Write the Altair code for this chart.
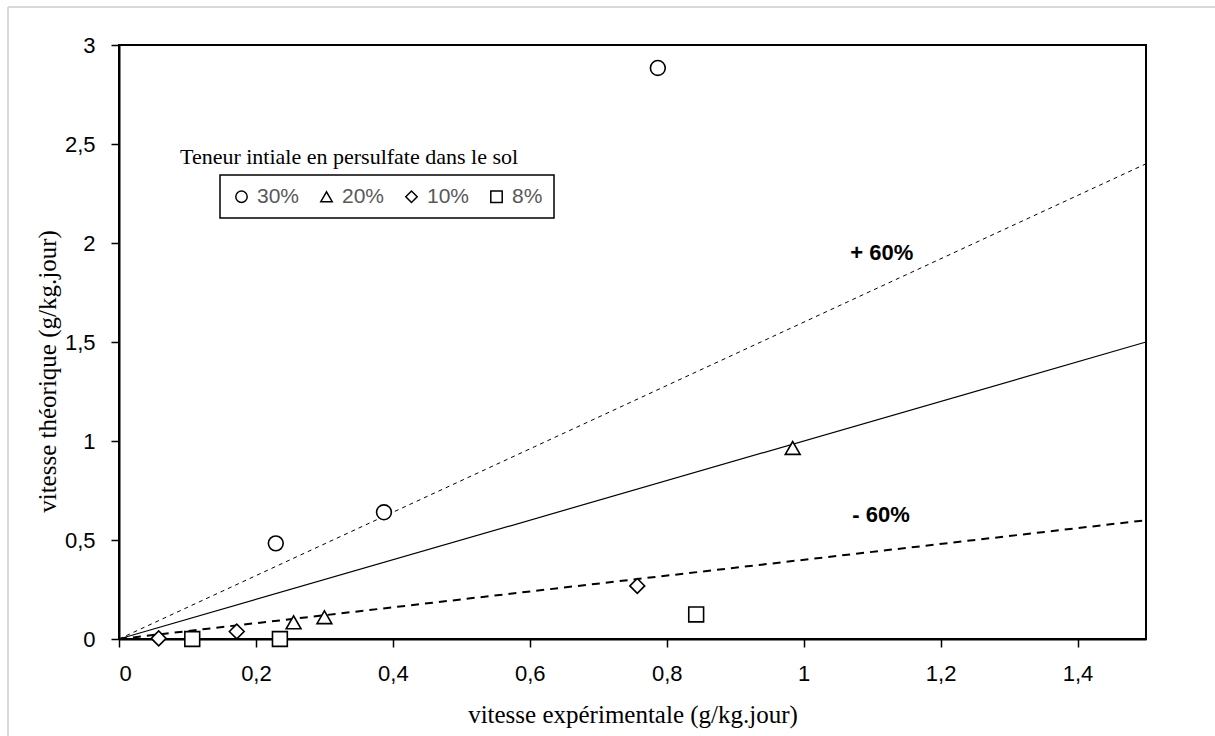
import altair as alt
import pandas as pd

# ---- data ----
series = ["30%", "20%", "10%", "8%"]
shapes = ["circle", "triangle-up", "diamond", "square"]

x_30 = [0.229, 0.387, 0.787]
y_30 = [0.483, 0.640, 2.884]
x_20 = [0.255, 0.300, 0.984]
y_20 = [0.084, 0.110, 0.965]
x_10 = [0.058, 0.172, 0.757]
y_10 = [0.003, 0.038, 0.268]
x_8 = [0.107, 0.235, 0.843]
y_8 = [0.000, 0.000, 0.124]

line_x = [0.0, 1.5]
line_y_ref = [0.0, 1.5]
line_y_plus = [0.0, 2.4]
line_y_minus = [0.0, 0.6]

ann_text = ["+ 60%", "- 60%"]
ann_x = [1.114, 1.113]
ann_y = [1.95, 0.626]

x_ticks = [0, 0.2, 0.4, 0.6, 0.8, 1, 1.2, 1.4]
y_ticks = [0, 0.5, 1, 1.5, 2, 2.5, 3]

legend_title = "Teneur intiale en persulfate dans le sol"

# ---- tables ----
rows = []
for s, xs, ys in zip(series, [x_30, x_20, x_10, x_8], [y_30, y_20, y_10, y_8]):
    for a, b in zip(xs, ys):
        rows.append({"serie": s, "x": a, "y": b})
pts = pd.DataFrame(rows)

ref = pd.DataFrame({"x": line_x, "y": line_y_ref})
plus = pd.DataFrame({"x": line_x, "y": line_y_plus})
minus = pd.DataFrame({"x": line_x, "y": line_y_minus})
ann = pd.DataFrame({"t": ann_text, "x": ann_x, "y": ann_y})

SANS = "Liberation Sans"
SERIF = "Liberation Serif"
label_expr = "replace(format(datum.value, '~g'), '.', ',')"

xs = alt.Scale(domain=[0, 1.5], nice=False, zero=False)
ys = alt.Scale(domain=[0, 3], nice=False, zero=False)

x_axis = alt.Axis(values=x_ticks, labelExpr=label_expr, title="vitesse expérimentale (g/kg.jour)",
                  grid=False, tickSize=8, tickColor="black", domainColor="black", domainWidth=2,
                  tickWidth=1.5, labelFont=SANS, labelFontSize=22, labelColor="black", labelPadding=16,
                  titleFont=SERIF, titleFontSize=25, titleFontWeight="normal", titleColor="black",
                  titleY=83, titleBaseline="alphabetic")
y_axis = alt.Axis(values=y_ticks, labelExpr=label_expr, title="vitesse théorique (g/kg.jour)",
                  grid=False, tickSize=8, tickColor="black", domainColor="black", domainWidth=2,
                  tickWidth=1.5, labelFont=SANS, labelFontSize=22, labelColor="black", labelPadding=16,
                  titleFont=SERIF, titleFontSize=25, titleFontWeight="normal", titleColor="black",
                  titleX=-72, titleY=326, titleAngle=270, titleAlign="center", titleBaseline="middle")

base_x = alt.X("x:Q", scale=xs, axis=x_axis)
base_y = alt.Y("y:Q", scale=ys, axis=y_axis)

l_ref = alt.Chart(ref).mark_line(color="black", strokeWidth=1.2).encode(x=base_x, y=base_y)
l_plus = alt.Chart(plus).mark_line(color="black", strokeWidth=1, strokeDash=[4, 4]).encode(
    x=alt.X("x:Q", scale=xs), y=alt.Y("y:Q", scale=ys))
l_minus = alt.Chart(minus).mark_line(color="black", strokeWidth=2, strokeDash=[8, 6]).encode(
    x=alt.X("x:Q", scale=xs), y=alt.Y("y:Q", scale=ys))

shape_scale = alt.Scale(domain=series, range=shapes)

# white fill under the hollow markers (no legend)
points_fill = alt.Chart(pts).mark_point(filled=True, color="white", size=220, opacity=1).encode(
    x=alt.X("x:Q", scale=xs),
    y=alt.Y("y:Q", scale=ys),
    shape=alt.Shape("serie:N", sort=series, scale=shape_scale, legend=None),
)

points = alt.Chart(pts).mark_point(filled=False, color="black", strokeWidth=1.6, size=220,
                                   opacity=1).encode(
    x=alt.X("x:Q", scale=xs),
    y=alt.Y("y:Q", scale=ys),
    shape=alt.Shape("serie:N", sort=series, scale=shape_scale,
                    legend=alt.Legend(title=None, orient="none", legendX=101, legendY=130,
                                      direction="horizontal", columns=4, columnPadding=16,
                                      strokeColor="black", padding=11,
                                      labelFont=SANS, labelFontSize=21, labelColor="#595959",
                                      labelOffset=5, symbolSize=130, symbolStrokeColor="black",
                                      symbolStrokeWidth=1.5)),
)

ann_marks = alt.Chart(ann).mark_text(font=SANS, fontSize=22, fontWeight="bold", color="black",
                                     align="center", baseline="middle").encode(
    x=alt.X("x:Q", scale=xs), y=alt.Y("y:Q", scale=ys), text="t:N")

leg_title = alt.Chart(pd.DataFrame({"t": [legend_title]})).mark_text(
    font=SERIF, fontSize=22, color="black", align="left", baseline="middle").encode(
    x=alt.value(61), y=alt.value(112), text="t:N")

frame_v = alt.Chart(pd.DataFrame({"a": [0]})).mark_rule(color="#d9d9d9", strokeWidth=2).encode(
    x=alt.value(-111), y=alt.value(-38), y2=alt.value(700))
frame_h = alt.Chart(pd.DataFrame({"a": [0]})).mark_rule(color="#d9d9d9", strokeWidth=2).encode(
    x=alt.value(-111), x2=alt.value(1100), y=alt.value(-38))

chart = alt.layer(frame_v, frame_h, l_ref, l_plus, l_minus, points_fill, points, ann_marks,
                  leg_title).resolve_scale(shape="independent").properties(
    width=1027, height=594,
    padding={"left": 119, "top": 45, "right": 69, "bottom": 97},
    autosize=alt.AutoSizeParams(type="none"),
    background="white",
).configure_view(stroke="black", strokeWidth=2).configure_legend(strokeWidth=1.5)

chart.save("out.html", embed_options={"renderer": "svg", "actions": False})
